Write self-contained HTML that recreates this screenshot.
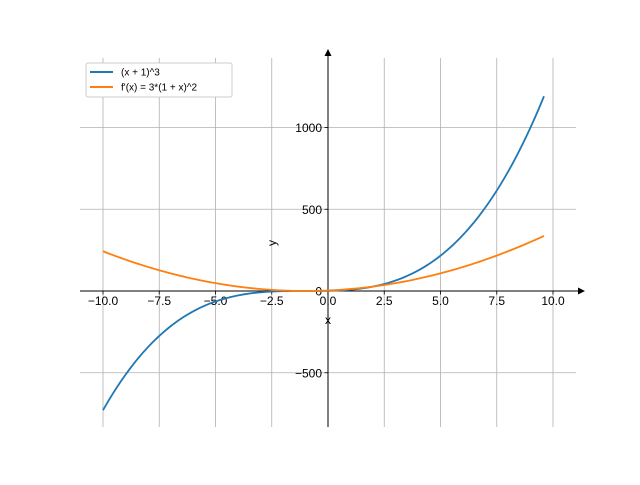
<!DOCTYPE html>
<html><head><meta charset="utf-8"><style>
body{margin:0;background:#fff}
svg{font-family:"Liberation Sans","DejaVu Sans",sans-serif}
</style></head><body>
<svg id="chart" width="640" height="480" xmlns="http://www.w3.org/2000/svg">
<g id="grid"></g>
<g id="axes"></g>
<g id="series"></g>
<g>
<rect x="86" y="63" width="146" height="34" rx="2" fill="#fff" stroke="#ccc" stroke-width="1"/>
<line x1="90" y1="72" x2="113" y2="72" stroke="#1f77b4" stroke-width="2"/>
<text x="121" y="75.5" font-size="10">(x + 1)^3</text>
<line x1="90" y1="87" x2="113" y2="87" stroke="#ff7f0e" stroke-width="2"/>
<text x="121" y="90.5" font-size="10">f'(x) = 3*(1 + x)^2</text>
</g>
</svg>
<script>
const xTicks=[-10,-7.5,-5,-2.5,0,2.5,5,7.5,10];
const xTickLabels=["−10.0","−7.5","−5.0","−2.5","0.0","2.5","5.0","7.5","10.0"];
const yTicks=[-500,0,500,1000];
const yTickLabels=["−500","0","500","1000"];
const xStart=-10, xEnd=9.6, nPts=100;
const X0=328, XS=22.5, Y0=291, YS=0.1635;
const L=80,R=576,T=58,B=427;
function sx(x){return X0+x*XS;}
function sy(y){return Y0-y*YS;}
const NS="http://www.w3.org/2000/svg";
function mk(tag,attrs,parent){const e=document.createElementNS(NS,tag);for(const k in attrs)e.setAttribute(k,attrs[k]);parent.appendChild(e);return e;}
const grid=document.getElementById('grid'),axes=document.getElementById('axes'),series=document.getElementById('series');
xTicks.forEach((t,i)=>{
 const g=mk('line',{x1:sx(t),x2:sx(t),y1:T,y2:B,stroke:'#b0b0b0','stroke-width':0.8},grid);
 
 
 const tk=mk('line',{x1:sx(t),x2:sx(t),y1:Y0,y2:Y0+3.5,stroke:'#000','stroke-width':0.8},axes);
 
 
 const lb=mk('text',{x:sx(t),y:Y0+14,'font-size':12,'text-anchor':'middle'},axes);
 lb.textContent=xTickLabels[i];
 
 
});
yTicks.forEach((t,i)=>{
 if(t!==0){const g=mk('line',{x1:L,x2:R,y1:sy(t),y2:sy(t),stroke:'#b0b0b0','stroke-width':0.8},grid);
 
 }
 const tk=mk('line',{x1:X0-3.5,x2:X0,y1:sy(t),y2:sy(t),stroke:'#000','stroke-width':0.8},axes);
 
 
 const lb=mk('text',{x:X0-6,y:sy(t)+4.5,'font-size':12,'text-anchor':'end'},axes);
 lb.textContent=yTickLabels[i];
 
 
});
const xa=mk('line',{x1:L,x2:R+6,y1:Y0,y2:Y0,stroke:'#000','stroke-width':1},axes);


const ya=mk('line',{x1:X0,x2:X0,y1:B,y2:T-6,stroke:'#000','stroke-width':1},axes);


const xar=mk('path',{d:`M${R+9},${Y0} L${R+2},${Y0-3.5} L${R+2},${Y0+3.5} Z`,fill:'#000'},axes);


const yar=mk('path',{d:`M${X0},${T-9} L${X0-3.5},${T-2} L${X0+3.5},${T-2} Z`,fill:'#000'},axes);


const xl=mk('text',{x:X0,y:324,'font-size':12,'text-anchor':'middle'},axes);
xl.textContent='x';


const yl=mk('text',{x:276,y:243,'font-size':12,'text-anchor':'middle',transform:'rotate(-90 276 243)'},axes);
yl.textContent='y';


function f1(x){return Math.pow(x+1,3);}
function f2(x){return 3*Math.pow(1+x,2);}
[[f1,'#1f77b4','cube-curve'],[f2,'#ff7f0e','derivative-curve']].forEach(([f,c,n])=>{
 let d='';
 for(let i=0;i<=nPts;i++){const x=xStart+(xEnd-xStart)*i/nPts;d+=(i?'L':'M')+sx(x).toFixed(2)+','+sy(f(x)).toFixed(2);}
 const p=mk('path',{d:d,fill:'none',stroke:c,'stroke-width':1.8},series);
 
 
});
</script>
</body></html>
